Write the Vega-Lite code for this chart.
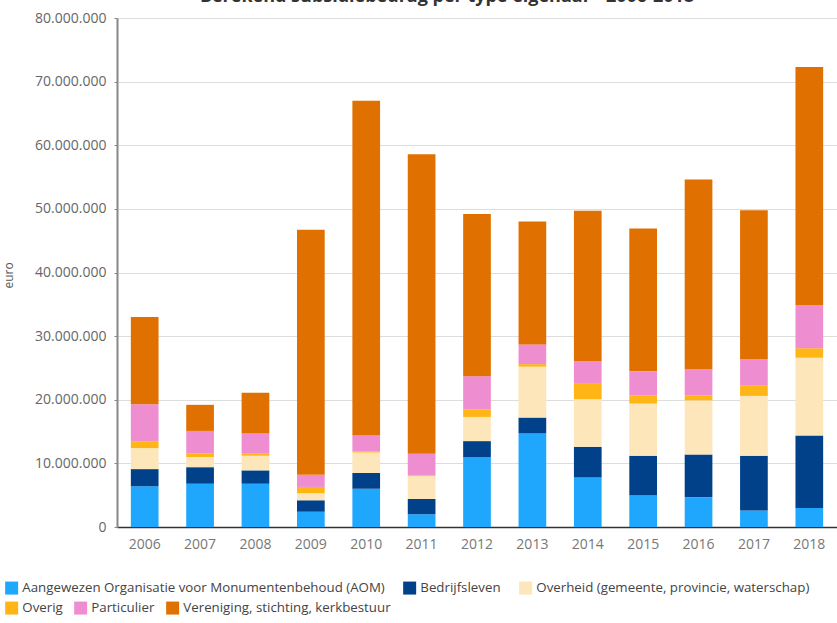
{
  "$schema": "https://vega.github.io/schema/vega-lite/v6.json",
  "width": 720,
  "height": 509,
  "autosize": {"type": "none"},
  "padding": {"left": 117, "top": 18, "right": 0, "bottom": 96},
  "title": {
    "text": "Berekend subsidiebedrag per type eigenaar - 2006-2018",
    "fontSize": 18,
    "fontWeight": "bold",
    "color": "#333333",
    "font": "Open Sans",
    "anchor": "middle",
    "frame": "group",
    "dx": -30,
    "offset": 5
  },
  "config": {
    "locale": {"number": {"decimal": ",", "thousands": ".", "grouping": [3], "currency": ["€ ", ""]}},
    "view": {"stroke": null},
    "font": "Open Sans"
  },
  "data": {
    "values": [
      {"jaar": "2006", "type": "Aangewezen Organisatie voor Monumentenbehoud (AOM)", "euro": 6400000},
      {"jaar": "2006", "type": "Bedrijfsleven", "euro": 2700000},
      {"jaar": "2006", "type": "Overheid (gemeente, provincie, waterschap)", "euro": 3300000},
      {"jaar": "2006", "type": "Overig", "euro": 1100000},
      {"jaar": "2006", "type": "Particulier", "euro": 5800000},
      {"jaar": "2006", "type": "Vereniging, stichting, kerkbestuur", "euro": 13700000},
      {"jaar": "2007", "type": "Aangewezen Organisatie voor Monumentenbehoud (AOM)", "euro": 6800000},
      {"jaar": "2007", "type": "Bedrijfsleven", "euro": 2600000},
      {"jaar": "2007", "type": "Overheid (gemeente, provincie, waterschap)", "euro": 1600000},
      {"jaar": "2007", "type": "Overig", "euro": 600000},
      {"jaar": "2007", "type": "Particulier", "euro": 3500000},
      {"jaar": "2007", "type": "Vereniging, stichting, kerkbestuur", "euro": 4100000},
      {"jaar": "2008", "type": "Aangewezen Organisatie voor Monumentenbehoud (AOM)", "euro": 6800000},
      {"jaar": "2008", "type": "Bedrijfsleven", "euro": 2100000},
      {"jaar": "2008", "type": "Overheid (gemeente, provincie, waterschap)", "euro": 2300000},
      {"jaar": "2008", "type": "Overig", "euro": 400000},
      {"jaar": "2008", "type": "Particulier", "euro": 3100000},
      {"jaar": "2008", "type": "Vereniging, stichting, kerkbestuur", "euro": 6400000},
      {"jaar": "2009", "type": "Aangewezen Organisatie voor Monumentenbehoud (AOM)", "euro": 2400000},
      {"jaar": "2009", "type": "Bedrijfsleven", "euro": 1800000},
      {"jaar": "2009", "type": "Overheid (gemeente, provincie, waterschap)", "euro": 1100000},
      {"jaar": "2009", "type": "Overig", "euro": 1000000},
      {"jaar": "2009", "type": "Particulier", "euro": 1900000},
      {"jaar": "2009", "type": "Vereniging, stichting, kerkbestuur", "euro": 38500000},
      {"jaar": "2010", "type": "Aangewezen Organisatie voor Monumentenbehoud (AOM)", "euro": 6000000},
      {"jaar": "2010", "type": "Bedrijfsleven", "euro": 2500000},
      {"jaar": "2010", "type": "Overheid (gemeente, provincie, waterschap)", "euro": 3200000},
      {"jaar": "2010", "type": "Overig", "euro": 200000},
      {"jaar": "2010", "type": "Particulier", "euro": 2500000},
      {"jaar": "2010", "type": "Vereniging, stichting, kerkbestuur", "euro": 52600000},
      {"jaar": "2011", "type": "Aangewezen Organisatie voor Monumentenbehoud (AOM)", "euro": 2000000},
      {"jaar": "2011", "type": "Bedrijfsleven", "euro": 2400000},
      {"jaar": "2011", "type": "Overheid (gemeente, provincie, waterschap)", "euro": 3600000},
      {"jaar": "2011", "type": "Overig", "euro": 100000},
      {"jaar": "2011", "type": "Particulier", "euro": 3400000},
      {"jaar": "2011", "type": "Vereniging, stichting, kerkbestuur", "euro": 47100000},
      {"jaar": "2012", "type": "Aangewezen Organisatie voor Monumentenbehoud (AOM)", "euro": 11000000},
      {"jaar": "2012", "type": "Bedrijfsleven", "euro": 2500000},
      {"jaar": "2012", "type": "Overheid (gemeente, provincie, waterschap)", "euro": 3800000},
      {"jaar": "2012", "type": "Overig", "euro": 1200000},
      {"jaar": "2012", "type": "Particulier", "euro": 5200000},
      {"jaar": "2012", "type": "Vereniging, stichting, kerkbestuur", "euro": 25500000},
      {"jaar": "2013", "type": "Aangewezen Organisatie voor Monumentenbehoud (AOM)", "euro": 14700000},
      {"jaar": "2013", "type": "Bedrijfsleven", "euro": 2500000},
      {"jaar": "2013", "type": "Overheid (gemeente, provincie, waterschap)", "euro": 8000000},
      {"jaar": "2013", "type": "Overig", "euro": 400000},
      {"jaar": "2013", "type": "Particulier", "euro": 3100000},
      {"jaar": "2013", "type": "Vereniging, stichting, kerkbestuur", "euro": 19300000},
      {"jaar": "2014", "type": "Aangewezen Organisatie voor Monumentenbehoud (AOM)", "euro": 7800000},
      {"jaar": "2014", "type": "Bedrijfsleven", "euro": 4800000},
      {"jaar": "2014", "type": "Overheid (gemeente, provincie, waterschap)", "euro": 7500000},
      {"jaar": "2014", "type": "Overig", "euro": 2400000},
      {"jaar": "2014", "type": "Particulier", "euro": 3600000},
      {"jaar": "2014", "type": "Vereniging, stichting, kerkbestuur", "euro": 23600000},
      {"jaar": "2015", "type": "Aangewezen Organisatie voor Monumentenbehoud (AOM)", "euro": 5000000},
      {"jaar": "2015", "type": "Bedrijfsleven", "euro": 6200000},
      {"jaar": "2015", "type": "Overheid (gemeente, provincie, waterschap)", "euro": 8200000},
      {"jaar": "2015", "type": "Overig", "euro": 1300000},
      {"jaar": "2015", "type": "Particulier", "euro": 3800000},
      {"jaar": "2015", "type": "Vereniging, stichting, kerkbestuur", "euro": 22400000},
      {"jaar": "2016", "type": "Aangewezen Organisatie voor Monumentenbehoud (AOM)", "euro": 4700000},
      {"jaar": "2016", "type": "Bedrijfsleven", "euro": 6700000},
      {"jaar": "2016", "type": "Overheid (gemeente, provincie, waterschap)", "euro": 8500000},
      {"jaar": "2016", "type": "Overig", "euro": 800000},
      {"jaar": "2016", "type": "Particulier", "euro": 4100000},
      {"jaar": "2016", "type": "Vereniging, stichting, kerkbestuur", "euro": 29800000},
      {"jaar": "2017", "type": "Aangewezen Organisatie voor Monumentenbehoud (AOM)", "euro": 2600000},
      {"jaar": "2017", "type": "Bedrijfsleven", "euro": 8600000},
      {"jaar": "2017", "type": "Overheid (gemeente, provincie, waterschap)", "euro": 9400000},
      {"jaar": "2017", "type": "Overig", "euro": 1700000},
      {"jaar": "2017", "type": "Particulier", "euro": 4100000},
      {"jaar": "2017", "type": "Vereniging, stichting, kerkbestuur", "euro": 23400000},
      {"jaar": "2018", "type": "Aangewezen Organisatie voor Monumentenbehoud (AOM)", "euro": 3000000},
      {"jaar": "2018", "type": "Bedrijfsleven", "euro": 11400000},
      {"jaar": "2018", "type": "Overheid (gemeente, provincie, waterschap)", "euro": 12200000},
      {"jaar": "2018", "type": "Overig", "euro": 1500000},
      {"jaar": "2018", "type": "Particulier", "euro": 6800000},
      {"jaar": "2018", "type": "Vereniging, stichting, kerkbestuur", "euro": 37400000}
    ]
  },
  "transform": [
    {"stack": "euro", "groupby": ["jaar"], "sort": [{"field": "type", "order": "ascending"}], "as": ["y0", "y1"]}
  ],
  "encoding": {
    "x": {
      "field": "jaar",
      "type": "ordinal",
      "scale": {"paddingInner": 0.5, "paddingOuter": 0.25},
      "axis": {
        "title": null,
        "labelAngle": 0,
        "labelColor": "#777777",
        "labelFontSize": 14,
        "labelPadding": 10,
        "ticks": false,
        "domainColor": "#333333",
        "domainWidth": 1.5
      }
    },
    "y": {
      "field": "y1",
      "type": "quantitative",
      "scale": {"domain": [0, 80000000], "nice": false},
      "axis": {
        "title": "euro",
        "titleFontSize": 12,
        "titleFontWeight": "normal",
        "titleColor": "#555555",
        "titleX": -102,
        "titleY": 257,
        "values": [0, 10000000, 20000000, 30000000, 40000000, 50000000, 60000000, 70000000, 80000000],
        "format": ",d",
        "labelColor": "#666666",
        "labelFontSize": 14,
        "labelPadding": 8,
        "tickSize": 3,
        "tickColor": "#888888",
        "domainColor": "#888888",
        "domainWidth": 2,
        "gridColor": "#dddddd",
        "gridWidth": 1
      }
    },
    "y2": {"field": "y0"}
  },
  "layer": [
    {
      "transform": [{"filter": {"field": "type", "oneOf": ["Aangewezen Organisatie voor Monumentenbehoud (AOM)", "Bedrijfsleven", "Overheid (gemeente, provincie, waterschap)"]}}],
      "mark": {"type": "bar"},
      "encoding": {
        "color": {
          "field": "type",
          "type": "nominal",
          "scale": {
            "domain": ["Aangewezen Organisatie voor Monumentenbehoud (AOM)", "Bedrijfsleven", "Overheid (gemeente, provincie, waterschap)"],
            "range": ["#1ea7fd", "#01418a", "#fde6b9"]
          },
          "legend": {
            "title": null,
            "orient": "none",
            "legendX": -112,
            "legendY": 563,
            "direction": "horizontal",
            "symbolType": "square",
            "symbolSize": 169,
            "symbolStrokeWidth": 0,
            "symbolOpacity": 1,
            "labelFontSize": 13.3,
            "labelColor": "#444444",
            "labelOffset": 4,
            "labelLimit": 400,
            "columnPadding": 18
          }
        }
      }
    },
    {
      "transform": [{"filter": {"field": "type", "oneOf": ["Overig", "Particulier", "Vereniging, stichting, kerkbestuur"]}}],
      "mark": {"type": "bar"},
      "encoding": {
        "color": {
          "field": "type",
          "type": "nominal",
          "scale": {
            "domain": ["Overig", "Particulier", "Vereniging, stichting, kerkbestuur"],
            "range": ["#ffb515", "#ee8ed0", "#e07000"]
          },
          "legend": {
            "title": null,
            "orient": "none",
            "legendX": -112,
            "legendY": 583,
            "direction": "horizontal",
            "symbolType": "square",
            "symbolSize": 169,
            "symbolStrokeWidth": 0,
            "symbolOpacity": 1,
            "labelFontSize": 13.3,
            "labelColor": "#444444",
            "labelOffset": 4,
            "labelLimit": 400,
            "columnPadding": 11
          }
        }
      }
    }
  ],
  "resolve": {"scale": {"color": "independent"}, "legend": {"color": "independent"}}
}
